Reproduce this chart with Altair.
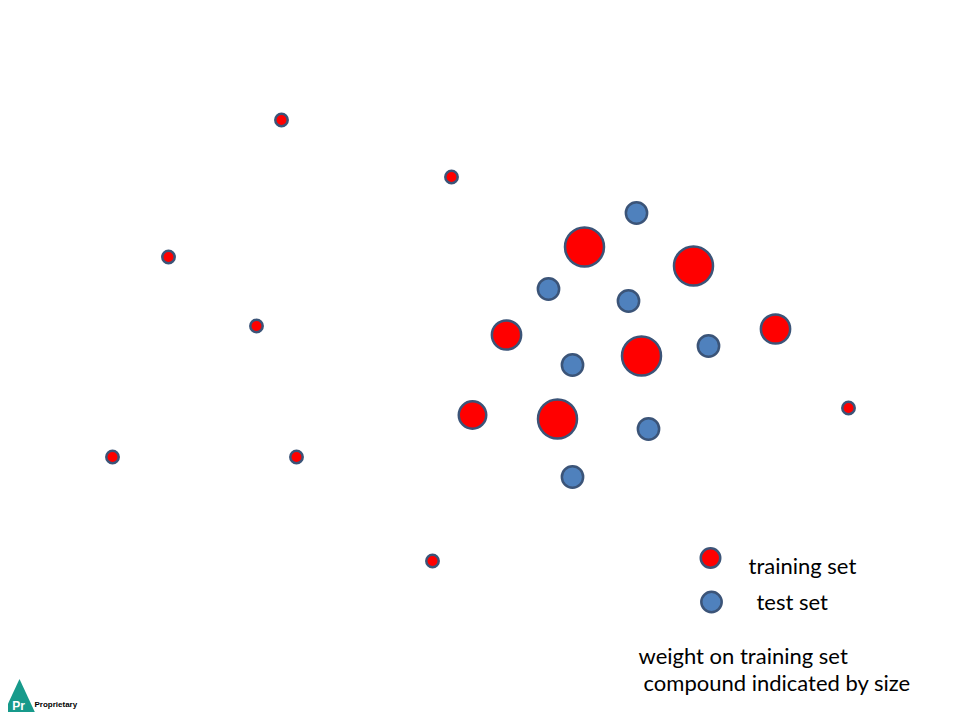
import altair as alt
import pandas as pd

# compound positions (pixel-like layout coordinates), radius and set
xs = [281, 451, 168, 256, 112, 296, 432, 848,
      506, 472, 775,
      584, 693, 641, 557,
      636, 548, 628, 572, 708, 648, 572]
ys = [119, 176, 256, 325, 456, 456, 560, 407,
      334, 414, 328,
      246, 265, 355, 418,
      212, 288, 300, 364, 345, 428, 476]
radii = [7, 7, 7, 7, 7, 7, 7, 7,
         16.5, 15.5, 16.5,
         22, 22, 22, 22,
         12, 12, 12, 12, 12, 12, 12]
sets = ["training"] * 15 + ["test"] * 7

legend_x = [710, 711]
legend_y = [557, 601]
legend_r = [11, 11.5]
legend_set = ["training", "test"]

label_texts = ["training set", "test set", "weight on training set", "compound indicated by size"]
label_x = [748, 756, 638, 643]
label_y = [566, 602, 656, 683]

df = pd.DataFrame({"x": xs + legend_x, "y": ys + legend_y, "r": radii + legend_r, "set": sets + legend_set})
lab = pd.DataFrame({"x": label_x, "y": label_y, "t": label_texts})

xsc = alt.Scale(domain=[7.5, 951.5], nice=False, zero=False)
ysc = alt.Scale(domain=[7, 711], nice=False, zero=False, reverse=True)

pts = alt.Chart(df).transform_calculate(
    area="3.14159 * datum.r * datum.r"
).mark_point(filled=True, shape="circle", stroke="#3b5478", strokeWidth=2.5, opacity=1, strokeOpacity=1).encode(
    x=alt.X("x:Q", scale=xsc, axis=None),
    y=alt.Y("y:Q", scale=ysc, axis=None),
    size=alt.Size("area:Q", scale=None, legend=None),
    fill=alt.Fill("set:N", scale=alt.Scale(domain=["training", "test"], range=["#ff0000", "#4f81bd"]), legend=None),
)

txt = alt.Chart(lab).mark_text(align="left", baseline="middle", font="Lato", fontSize=22, color="#000000").encode(
    x=alt.X("x:Q", scale=xsc, axis=None),
    y=alt.Y("y:Q", scale=ysc, axis=None),
    text="t:N",
)

logo_df = pd.DataFrame({"x": [19], "y": [701]})
tri = alt.Chart(logo_df).mark_point(shape="M0,-1L0.93,1L-0.93,1Z", filled=True, fill="#179a8b", opacity=1, size=2100).encode(
    x=alt.X("x:Q", scale=xsc, axis=None),
    y=alt.Y("y:Q", scale=ysc, axis=None),
)
pr = alt.Chart(pd.DataFrame({"x": [18], "y": [709], "t": ["Pr"]})).mark_text(
    font="Liberation Sans", fontWeight="bold", fontSize=12, color="white", align="center", baseline="alphabetic"
).encode(x=alt.X("x:Q", scale=xsc, axis=None), y=alt.Y("y:Q", scale=ysc, axis=None), text="t:N")
prop = alt.Chart(pd.DataFrame({"x": [34], "y": [706], "t": ["Proprietary"]})).mark_text(
    font="Liberation Sans", fontWeight="bold", fontSize=8, color="black", align="left", baseline="alphabetic"
).encode(x=alt.X("x:Q", scale=xsc, axis=None), y=alt.Y("y:Q", scale=ysc, axis=None), text="t:N")

chart = alt.layer(pts, txt, tri, pr, prop).properties(
    width=944, height=704, autosize=alt.AutoSizeParams(type="none"), padding=0,
).configure_view(stroke=None)

chart.save("out.html", embed_options={"renderer": "svg", "actions": False})
